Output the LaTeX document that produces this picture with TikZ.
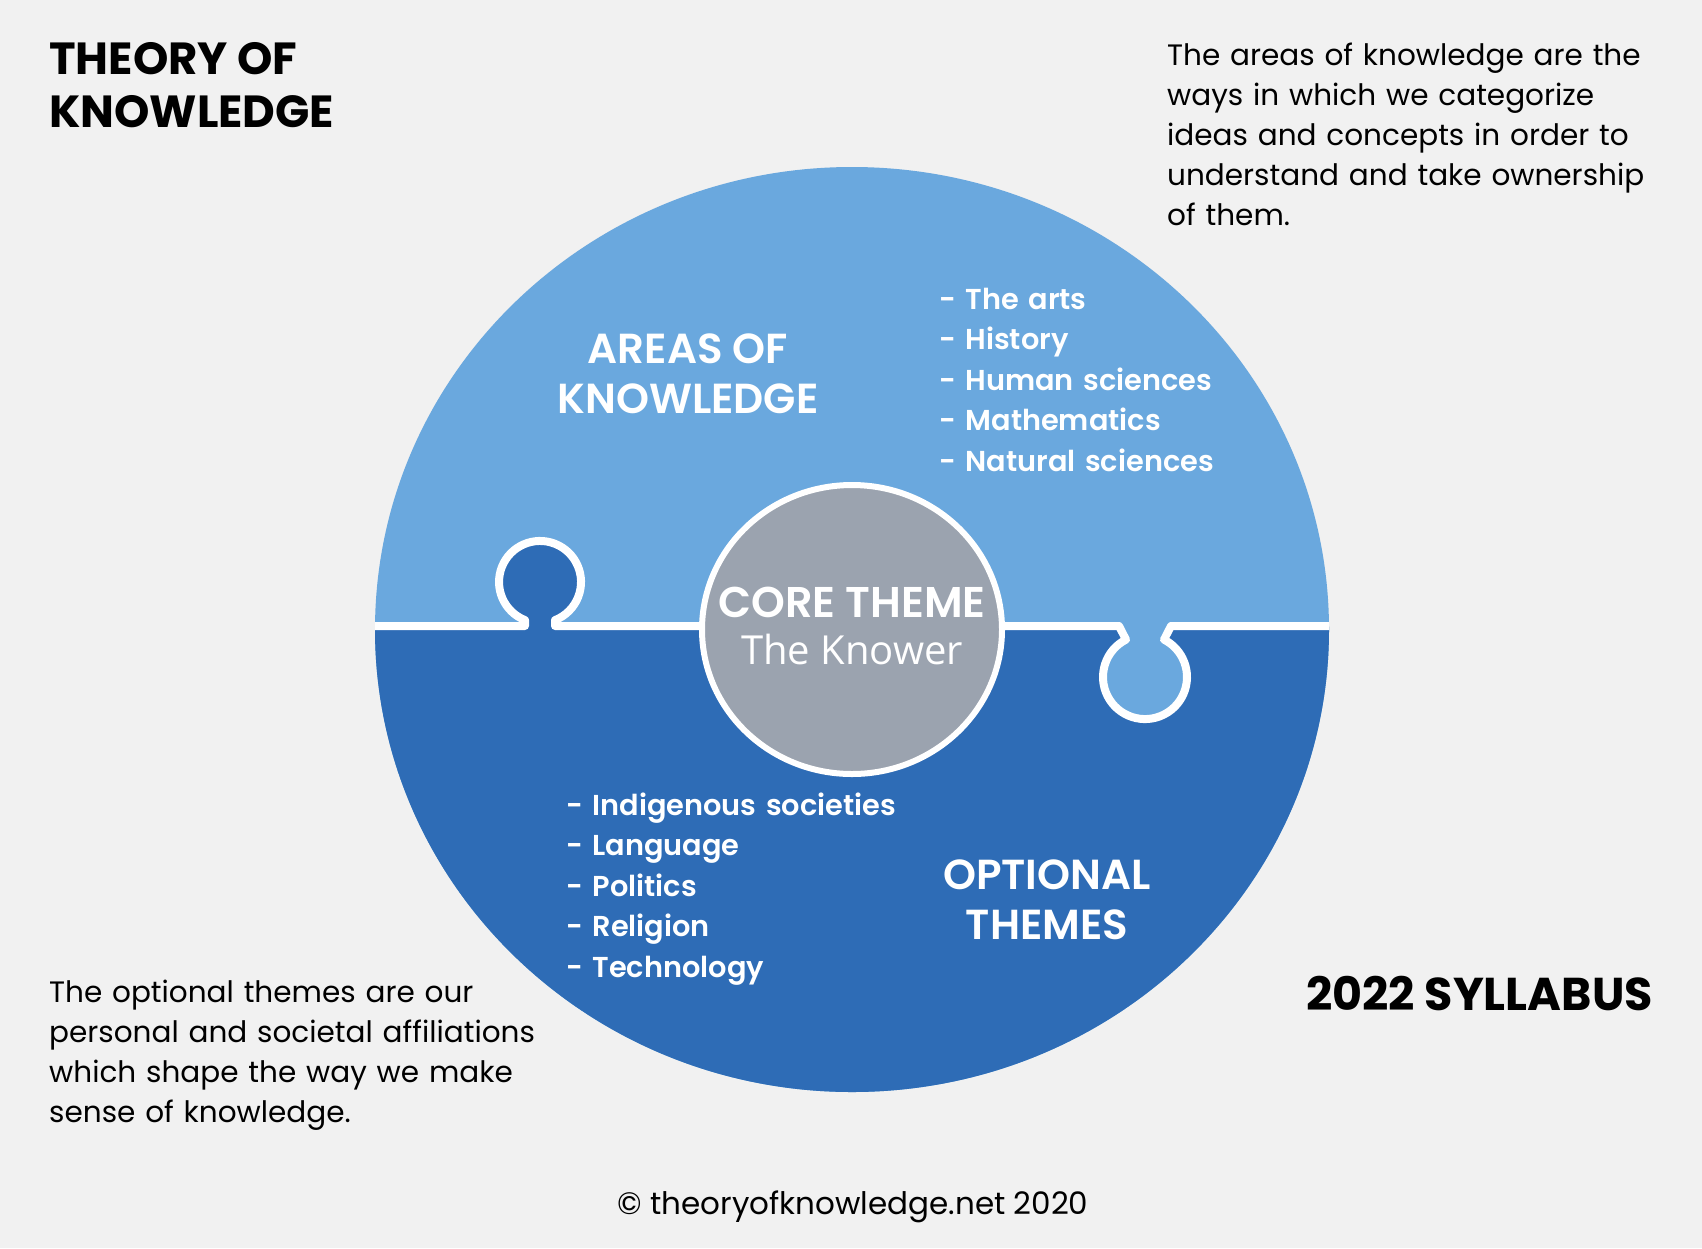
\documentclass[tikz,border=0pt]{standalone}
\usepackage{fontspec}
\setmainfont{Poppins}
\newfontfamily\semib{Poppins SemiBold}
\newfontfamily\knowerfont{Open Sans}
\definecolor{paper}{RGB}{241,241,241}
\definecolor{aokblue}{RGB}{106,168,222}
\definecolor{optblue}{RGB}{46,108,182}
\definecolor{coregrey}{RGB}{155,163,175}
\usetikzlibrary{positioning}

\begin{document}
\begin{tikzpicture}[x=1pt,y=-1pt,
    bodytext/.style={anchor=base west,inner sep=0pt,text width=560pt,align=left,
      font=\fontsize{29.5}{40}\selectfont},
    headtext/.style={anchor=base,inner sep=0pt,align=center,text=white,
      font=\semib\fontsize{42}{50}\selectfont},
    listtext/.style={anchor=base west,inner sep=0pt,text width=420pt,align=left,text=white,
      font=\semib\fontsize{28.8}{40.5}\selectfont},
    bigtext/.style={inner sep=0pt,font=\bfseries\fontsize{45}{53}\selectfont}]
  \useasboundingbox[fill=paper] (0,0) rectangle (1702,1248);

  % the two puzzle pieces
  \begin{scope}
    \clip (852,629.5) ellipse[x radius=477,y radius=462.5];
    \fill[aokblue] (370,160) rectangle (1335,1100);
    \fill[optblue] (370,626) -- (525,626) -- (525,620.1)
      arc[start angle=111.5,end angle=428.5,radius=41] -- (555,626) -- (1119,626)
      -- (1126,639.6) arc[start angle=243.1,end angle=-63.1,radius=42]
      -- (1171,626) -- (1335,626) -- (1335,1100) -- (370,1100) -- cycle;
    \draw[white,line width=8pt,line join=round] (370,626) -- (525,626) -- (525,620.1)
      arc[start angle=111.5,end angle=428.5,radius=41] -- (555,626) -- (1119,626)
      -- (1126,639.6) arc[start angle=243.1,end angle=-63.1,radius=42]
      -- (1171,626) -- (1335,626);
  \end{scope}
  \draw[white,line width=6pt,fill=coregrey] (852,629.5) ellipse[x radius=150,y radius=144.5];

  % texts in the circle
  \node[headtext] (aok) at (688,413) {AREAS OF\\KNOWLEDGE};
  \node[headtext] (opt) at (1047,939) {OPTIONAL\\THEMES};
  \node[headtext,font=\semib\fontsize{43}{50}\selectfont] (core) at (852,617) {CORE THEME};
  \node[inner sep=0pt,anchor=base,text=white,font=\knowerfont\fontsize{40}{44}\selectfont]
    (knower) at (852,664) {The Knower};
  \node[listtext] (aoklist) at (939,309)
    {- The arts\\- History\\- Human sciences\\- Mathematics\\- Natural sciences};
  \node[listtext] (optlist) at (566,815)
    {- Indigenous societies\\- Language\\- Politics\\- Religion\\- Technology};

  % texts round it
  \node[bigtext,anchor=base west,align=left] (title) at (49,127) {THEORY OF\\KNOWLEDGE};
  \node[bigtext,anchor=base west,font=\bfseries\fontsize{46}{53}\selectfont]
    (syllabus) at (1306,1010) {2022 SYLLABUS};
  \node[bodytext] (aoknote) at (1167,65)
    {The areas of knowledge are the\\ways in which we categorize\\ideas and concepts in order to\\understand and take ownership\\of them.};
  \node[bodytext] (optnote) at (49,1002)
    {The optional themes are our\\personal and societal affiliations\\which shape the way we make\\sense of knowledge.};
  \node[inner sep=0pt,anchor=base,font=\fontsize{31}{34}\selectfont] (copy) at (853,1214)
    {\textcopyright\ theoryofknowledge.net 2020};
\end{tikzpicture}
\end{document}
